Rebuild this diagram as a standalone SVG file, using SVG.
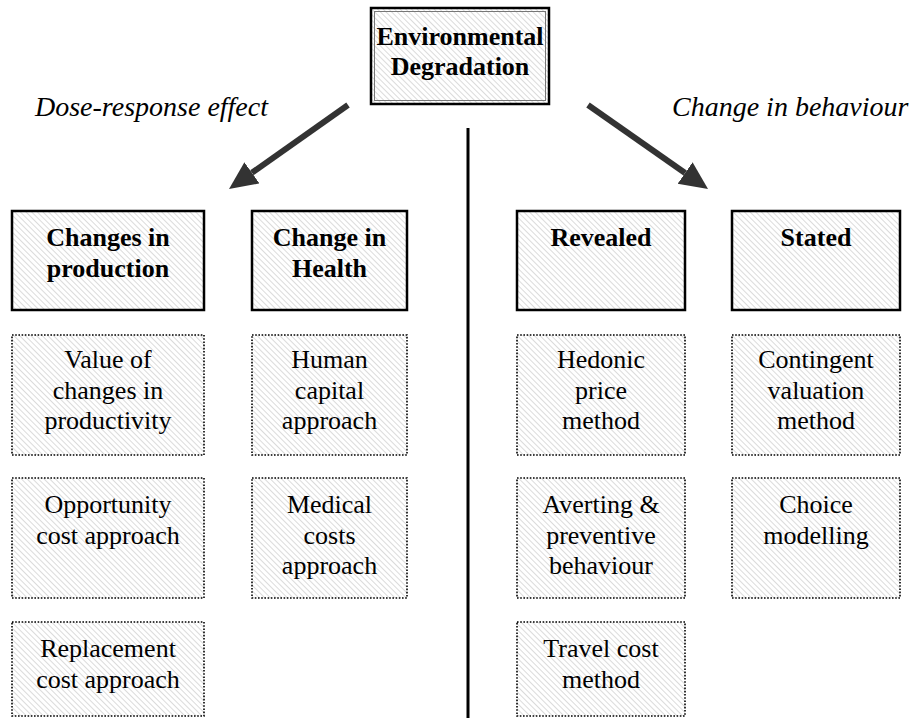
<svg xmlns="http://www.w3.org/2000/svg" width="919" height="718" viewBox="0 0 919 718">
<defs>
<pattern id="hatch" patternUnits="userSpaceOnUse" width="4" height="4" patternTransform="rotate(-45)">
<rect width="4" height="4" fill="#ffffff"/>
<line x1="0" y1="0" x2="0" y2="4" stroke="#c4c4c4" stroke-width="1.2"/>
</pattern>
<marker id="ah" markerUnits="userSpaceOnUse" markerWidth="30" markerHeight="28" refX="0" refY="13" orient="auto">
<path d="M0,0 L28,13 L0,26 Z" fill="#333333"/>
</marker>
</defs>
<style>
.hd{fill:url(#hatch);stroke:#000;stroke-width:2.5}
.dt{fill:url(#hatch);stroke:#000;stroke-width:1.6;stroke-dasharray:1.6 1.6}
text{font-family:'Liberation Serif','DejaVu Serif',serif;font-size:26px;fill:#000}
.b{font-weight:bold;text-anchor:middle}
.r{text-anchor:middle}
.i{font-style:italic;font-size:28px}
.arr{stroke:#333333;stroke-width:6;fill:none}
</style>
<rect width="919" height="718" fill="#ffffff"/>

<g id="connectors">
<line class="arr" x1="348" y1="105" x2="251.9" y2="172.8" marker-end="url(#ah)"/>
<line class="arr" x1="588" y1="105" x2="685.1" y2="173" marker-end="url(#ah)"/>
<line x1="468" y1="128" x2="468" y2="718" stroke="#000" stroke-width="3"/>
</g>

<g id="top">
<rect class="hd" x="371" y="8" width="178" height="96"/>
<rect x="374.5" y="11.5" width="171" height="89" fill="none" stroke="#777" stroke-width="1"/>
<text class="b" x="460" y="45">Environmental</text>
<text class="b" x="460" y="75">Degradation</text>
</g>

<g id="label-dose"><text class="i" x="35" y="116">Dose-response effect</text></g>
<g id="label-behaviour"><text class="i" x="672" y="116">Change in behaviour</text></g>

<g id="production">
<rect class="hd" x="12" y="211" width="192" height="99"/>
<text class="b" x="108" y="246">Changes in</text>
<text class="b" x="108" y="277">production</text>
</g>
<g id="health">
<rect class="hd" x="252" y="211" width="155" height="99"/>
<text class="b" x="329.5" y="246">Change in</text>
<text class="b" x="329.5" y="277">Health</text>
</g>
<g id="revealed">
<rect class="hd" x="517" y="211" width="168" height="99"/>
<text class="b" x="601" y="246">Revealed</text>
</g>
<g id="stated">
<rect class="hd" x="732" y="211" width="168" height="99"/>
<text class="b" x="816" y="246">Stated</text>
</g>

<g id="productivity">
<rect class="dt" x="12" y="335" width="192" height="120"/>
<text class="r" x="108" y="368">Value of</text>
<text class="r" x="108" y="398.5">changes in</text>
<text class="r" x="108" y="429">productivity</text>
</g>
<g id="opportunity">
<rect class="dt" x="12" y="478" width="192" height="120"/>
<text class="r" x="108" y="513">Opportunity</text>
<text class="r" x="108" y="543.5">cost approach</text>
</g>
<g id="replacement">
<rect class="dt" x="12" y="622" width="192" height="94"/>
<text class="r" x="108" y="657">Replacement</text>
<text class="r" x="108" y="687.5">cost approach</text>
</g>

<g id="human-capital">
<rect class="dt" x="252" y="335" width="155" height="120"/>
<text class="r" x="329.5" y="368">Human</text>
<text class="r" x="329.5" y="398.5">capital</text>
<text class="r" x="329.5" y="429">approach</text>
</g>
<g id="medical">
<rect class="dt" x="252" y="478" width="155" height="120"/>
<text class="r" x="329.5" y="513">Medical</text>
<text class="r" x="329.5" y="543.5">costs</text>
<text class="r" x="329.5" y="574">approach</text>
</g>

<g id="hedonic">
<rect class="dt" x="517" y="335" width="168" height="120"/>
<text class="r" x="601" y="368">Hedonic</text>
<text class="r" x="601" y="398.5">price</text>
<text class="r" x="601" y="429">method</text>
</g>
<g id="averting">
<rect class="dt" x="517" y="478" width="168" height="120"/>
<text class="r" x="601" y="513">Averting &amp;</text>
<text class="r" x="601" y="543.5">preventive</text>
<text class="r" x="601" y="574">behaviour</text>
</g>
<g id="travel">
<rect class="dt" x="517" y="622" width="168" height="94"/>
<text class="r" x="601" y="657">Travel cost</text>
<text class="r" x="601" y="687.5">method</text>
</g>

<g id="contingent">
<rect class="dt" x="732" y="335" width="168" height="120"/>
<text class="r" x="816" y="368">Contingent</text>
<text class="r" x="816" y="398.5">valuation</text>
<text class="r" x="816" y="429">method</text>
</g>
<g id="choice">
<rect class="dt" x="732" y="478" width="168" height="120"/>
<text class="r" x="816" y="513">Choice</text>
<text class="r" x="816" y="543.5">modelling</text>
</g>
</svg>
